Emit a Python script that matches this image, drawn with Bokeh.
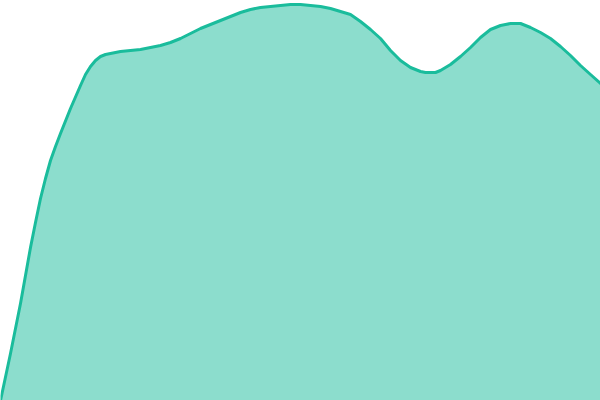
from bokeh.plotting import figure
from bokeh.models import Range1d
from bokeh.embed import file_html
from bokeh.resources import INLINE

# x positions (0..600) and heights (0..400)
xs = [0, 10, 20, 30, 35, 40, 45, 50, 55, 60, 70, 80, 85, 90, 95, 100, 105, 110, 115, 120,
      130, 140, 150, 160, 170, 180, 190, 200, 210, 220, 230, 240, 250, 260,
      270, 280, 290, 300, 310, 320, 330, 340, 350, 360, 370, 380, 390, 400,
      410, 420, 425, 430, 435, 440, 450, 460, 470, 480, 490, 500, 505, 510,
      515, 520, 530, 540, 550, 560, 570, 580, 590, 600]
heights = [0, 47, 97, 153, 178, 202, 222, 240, 254, 267, 292, 315, 326, 334, 340, 344, 346, 347, 348, 349,
           350, 351, 353, 355, 358, 362, 367, 372, 376, 380, 384, 388, 391, 393,
           394, 395, 396, 396, 395, 394, 392, 389, 386, 379, 371, 362, 350, 340,
           333, 329, 328, 328, 328, 330, 336, 344, 353, 363, 371, 375, 376, 377,
           377, 377, 373, 368, 362, 354, 345, 335, 326, 317]
base = [0] * len(xs)

p = figure(width=600, height=400, output_backend="svg", toolbar_location=None,
           x_range=Range1d(0, 600), y_range=Range1d(0, 400),
           min_border=0, min_border_left=0, min_border_right=0,
           min_border_top=0, min_border_bottom=0)
p.axis.visible = False
p.grid.visible = False
p.outline_line_color = None
p.background_fill_color = "white"
p.border_fill_color = "white"

p.varea(x=xs, y1=base, y2=heights, fill_color="#1abc9c", fill_alpha=0.5)
p.line(x=xs, y=heights, line_color="#1abc9c", line_width=3,
       line_join="round", line_cap="round")

html = file_html(p, INLINE)
html = html.replace("<head>", "<head><style>html,body{margin:0;padding:0;overflow:hidden}</style>", 1)
open("out.html", "w").write(html)
